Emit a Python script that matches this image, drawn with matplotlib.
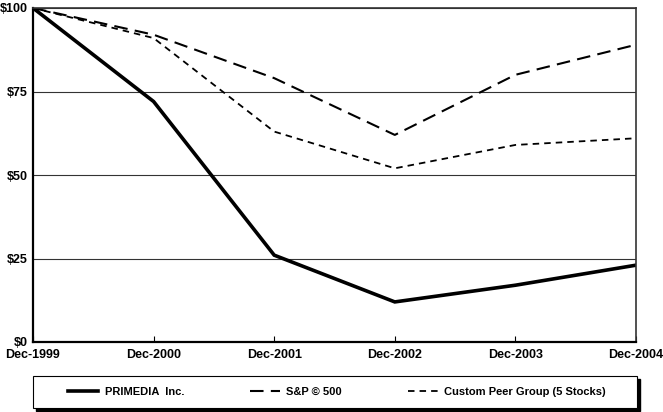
import matplotlib.pyplot as plt
from matplotlib.lines import Line2D
from matplotlib.patches import Rectangle

years = ['Dec-1999', 'Dec-2000', 'Dec-2001', 'Dec-2002', 'Dec-2003', 'Dec-2004']
primedia = [100, 72, 26, 12, 17, 23]
sp500 = [100, 92, 79, 62, 80, 89]
peer_group = [100, 91, 63, 52, 59, 61]
y_ticks = [0, 25, 50, 75, 100]
y_labels = ['$0', '$25', '$50', '$75', '$100']
series_names = ['PRIMEDIA  Inc.', 'S&P \u00a9 500', 'Custom Peer Group (5 Stocks)']


def main():
    plt.rcParams['font.family'] = ['Liberation Sans', 'DejaVu Sans']
    plt.rcParams['font.weight'] = 'bold'
    plt.rcParams['font.size'] = 9

    W, H = 663, 412
    fig = plt.figure(figsize=(W / 100, H / 100), dpi=100)
    ax = fig.add_axes([33 / W, 1 - 342 / H, 603 / W, 334 / H])

    x = range(len(years))
    styles = [
        dict(color='black', lw=2.6, ls='-'),
        dict(color='black', lw=1.5, ls=(0, (6.5, 3.5))),
        dict(color='black', lw=1.3, ls=(0, (3.6, 2.8))),
    ]
    for vals, st in zip([primedia, sp500, peer_group], styles):
        ax.plot(x, vals, solid_joinstyle='miter', **st)

    ax.set_xlim(0, len(years) - 1)
    ax.set_ylim(0, 100)
    ax.set_yticks(y_ticks)
    ax.set_yticklabels(y_labels)
    ax.set_xticks(list(x))
    ax.set_xticklabels(years)
    ax.tick_params(axis='x', direction='in', length=4, width=0.8, pad=5)
    ax.tick_params(axis='y', length=0, pad=4)
    ax.grid(axis='y', color='#333333', lw=0.8)
    for side in ['left', 'bottom']:
        ax.spines[side].set_linewidth(1.6)
    for side in ['top', 'right']:
        ax.spines[side].set_linewidth(1.2)
        ax.spines[side].set_color('#333333')

    # legend box with a solid drop shadow
    bx, by, bw, bh = 33 / W, 1 - 408 / H, 604 / W, 32 / H
    fig.patches.append(Rectangle((bx + 3 / W, by - 3 / H), bw, bh,
                                 transform=fig.transFigure, fc='black',
                                 ec='black', zorder=1))
    fig.patches.append(Rectangle((bx, by), bw, bh, transform=fig.transFigure,
                                 fc='white', ec='black', lw=0.8, zorder=2))

    handles = [Line2D([], [], **st) for st in styles]
    leg = fig.legend(handles, series_names, loc='center', ncol=3,
                     bbox_to_anchor=(bx + bw / 2 + 2 / W, by + bh / 2),
                     frameon=False, handlelength=2.7, handletextpad=0.6,
                     columnspacing=5.9, borderaxespad=0, fontsize=8)
    leg.set_zorder(3)

    fig.savefig('out.png', dpi=100)


if __name__ == "__main__":
    main()
